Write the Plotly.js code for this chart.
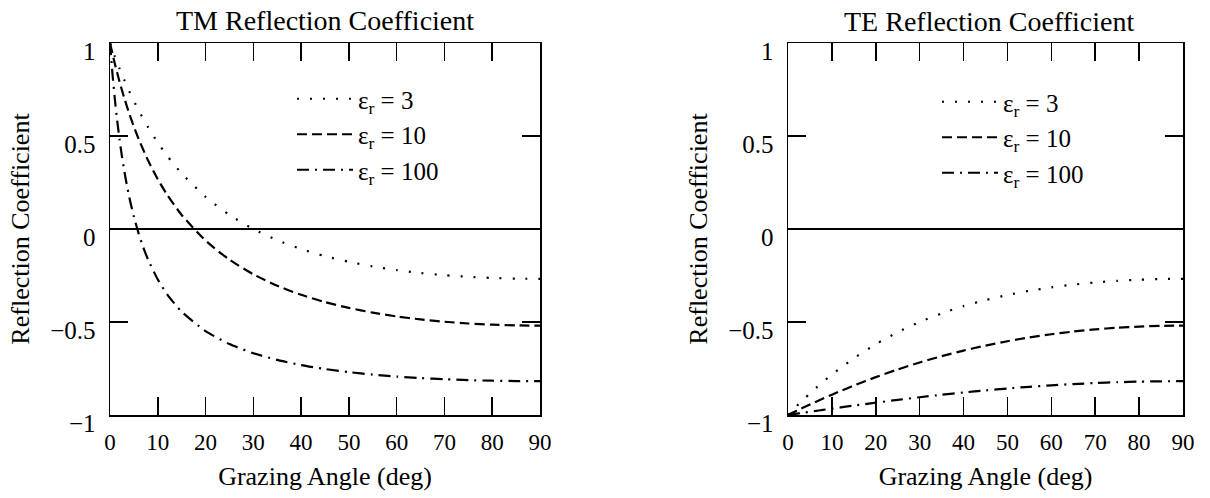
<!DOCTYPE html>
<html>
<head>
<meta charset="utf-8">
<script src="https://cdn.plot.ly/plotly-3.0.1.min.js"></script>
<style>html,body{margin:0;padding:0;background:#fff;}#chart{width:1210px;height:498px;}</style>
</head>
<body>
<div id="chart"></div>
<script>
// Grazing angles (deg)
const angleDeg = [0,1,2,3,4,5,6,8,10,12,15,20,25,30,35,40,45,50,55,60,65,70,75,80,85,90];
const angleFineDeg = [0,0.5,1,1.5,2,2.5,3,3.5,4,4.5,5,6,7,8,10,12,15,20,25,30,35,40,45,50,55,60,65,70,75,80,85,90];

// TM reflection coefficient
const tmEps3 = [1,0.9286,0.8622,0.8004,0.7423,0.6883,0.6379,0.5457,0.4646,0.3924,0.2987,0.1729,0.0759,0,-0.0600,-0.1077,-0.1459,-0.1765,-0.2012,-0.2208,-0.2363,-0.2482,-0.2571,-0.2632,-0.2668,-0.2679];
const tmEps10 = [1,0.8901,0.7916,0.7031,0.6226,0.5497,0.4835,0.3666,0.2677,0.1825,0.0756,-0.0622,-0.1649,-0.2436,-0.3051,-0.3538,-0.3929,-0.4243,-0.4497,-0.4700,-0.4861,-0.4986,-0.5080,-0.5144,-0.5182,-0.5195];
const tmEps100 = [1,0.8387,0.7016,0.5834,0.4807,0.3904,0.3109,0.2395,0.1754,0.1182,0.0659,-0.0245,-0.1011,-0.1663,-0.2713,-0.3525,-0.4445,-0.5491,-0.6186,-0.6677,-0.7039,-0.7314,-0.7527,-0.7695,-0.7827,-0.7932,-0.8014,-0.8077,-0.8124,-0.8157,-0.8176,-0.8182];

// TE reflection coefficient
const teEps3 = [-1,-0.9756,-0.9518,-0.9287,-0.9060,-0.8841,-0.8627,-0.8216,-0.7828,-0.7460,-0.6949,-0.6194,-0.5548,-0.5,-0.4536,-0.4146,-0.3820,-0.3548,-0.3322,-0.3139,-0.2991,-0.2875,-0.2788,-0.2727,-0.2691,-0.2679];
const teEps10 = [-1,-0.9884,-0.9770,-0.9657,-0.9545,-0.9435,-0.9327,-0.9114,-0.8908,-0.8707,-0.8417,-0.7965,-0.7552,-0.7176,-0.6838,-0.6536,-0.6268,-0.6033,-0.5830,-0.5658,-0.5514,-0.5397,-0.5308,-0.5245,-0.5207,-0.5195];
const teEps100 = [-1,-0.9965,-0.9930,-0.9895,-0.9861,-0.9826,-0.9792,-0.9724,-0.9657,-0.9591,-0.9493,-0.9336,-0.9186,-0.9044,-0.8912,-0.8789,-0.8676,-0.8574,-0.8483,-0.8404,-0.8337,-0.8281,-0.8238,-0.8207,-0.8188,-0.8182];

const seriesNames = ['ε<sub>r</sub> = 3','ε<sub>r</sub> = 10','ε<sub>r</sub> = 100'];
const panelTitles = ['TM Reflection Coefficient','TE Reflection Coefficient'];
const xTitle = 'Grazing Angle (deg)';
const yTitle = 'Reflection Coefficient';

const FONT = '"Liberation Serif", "Times New Roman", serif';
const dashes = ['2px,11px','10px,5px','12px,6px,2px,6px'];

function tr(x, y, i, xa, ya, leg) {
  return {x: x, y: y, xaxis: xa, yaxis: ya, type: 'scatter', mode: 'lines',
    name: seriesNames[i], legend: leg,
    line: {color: '#000', width: 2.2, dash: dashes[i], shape: 'spline', smoothing: 0.6},
    hoverinfo: 'skip'};
}

const data = [
  tr(angleDeg, tmEps3, 0, 'x', 'y', 'legend'),
  tr(angleDeg, tmEps10, 1, 'x', 'y', 'legend'),
  tr(angleFineDeg, tmEps100, 2, 'x', 'y', 'legend'),
  tr(angleDeg, teEps3, 0, 'x2', 'y2', 'legend2'),
  tr(angleDeg, teEps10, 1, 'x2', 'y2', 'legend2'),
  tr(angleDeg, teEps100, 2, 'x2', 'y2', 'legend2')
];

function xAxis(dom, anchor) {
  return {domain: dom, anchor: anchor, range: [0, 90], dtick: 10, tick0: 0,
    showline: true, linecolor: '#000', linewidth: 1.5, mirror: 'ticks',
    ticks: 'inside', ticklen: 18, tickwidth: 1.5, tickcolor: '#000',
    showgrid: false, zeroline: false, ticklabelstandoff: 6,
    tickfont: {family: FONT, size: 23, color: '#000'},
    title: {text: xTitle, font: {family: FONT, size: 26, color: '#000'}, standoff: 12}};
}
function yAxis(dom, anchor) {
  return {domain: dom, anchor: anchor, range: [-1, 1], dtick: 0.5, tick0: 0,
    showline: true, linecolor: '#000', linewidth: 1.5, mirror: 'ticks',
    ticks: 'inside', ticklen: 18, tickwidth: 1.5, tickcolor: '#000',
    showgrid: false, zeroline: true, zerolinecolor: '#000', zerolinewidth: 1.5,
    ticklabelstandoff: 8, ticklabelshift: 8,
    tickfont: {family: FONT, size: 25, color: '#000'},
    title: {text: yTitle, font: {family: FONT, size: 26, color: '#000'}, standoff: 13}};
}

const yDom = [83/498, 455/498];
const layout = {
  width: 1210, height: 498,
  margin: {l: 0, r: 0, t: 0, b: 0},
  paper_bgcolor: '#fff', plot_bgcolor: '#fff',
  showlegend: true,
  xaxis: xAxis([110/1210, 540/1210], 'y'),
  yaxis: yAxis(yDom, 'x'),
  xaxis2: xAxis([788/1210, 1183/1210], 'y2'),
  yaxis2: yAxis(yDom, 'x2'),
  legend: {x: 292/1210, y: 422/498, xanchor: 'left', yanchor: 'top', bgcolor: 'rgba(0,0,0,0)',
    itemwidth: 56, font: {family: FONT, size: 25, color: '#000'}},
  legend2: {x: 937/1210, y: 419/498, xanchor: 'left', yanchor: 'top', bgcolor: 'rgba(0,0,0,0)',
    itemwidth: 56, font: {family: FONT, size: 25, color: '#000'}},
  annotations: [
    {text: panelTitles[0], xref: 'paper', yref: 'paper', x: 325/1210, y: 478/498,
     xanchor: 'center', yanchor: 'middle', showarrow: false, font: {family: FONT, size: 28, color: '#000'}},
    {text: panelTitles[1], xref: 'paper', yref: 'paper', x: 989/1210, y: 476/498,
     xanchor: 'center', yanchor: 'middle', showarrow: false, font: {family: FONT, size: 28, color: '#000'}}
  ]
};

Plotly.newPlot('chart', data, layout, {staticPlot: true, displayModeBar: false});
</script>
</body>
</html>
